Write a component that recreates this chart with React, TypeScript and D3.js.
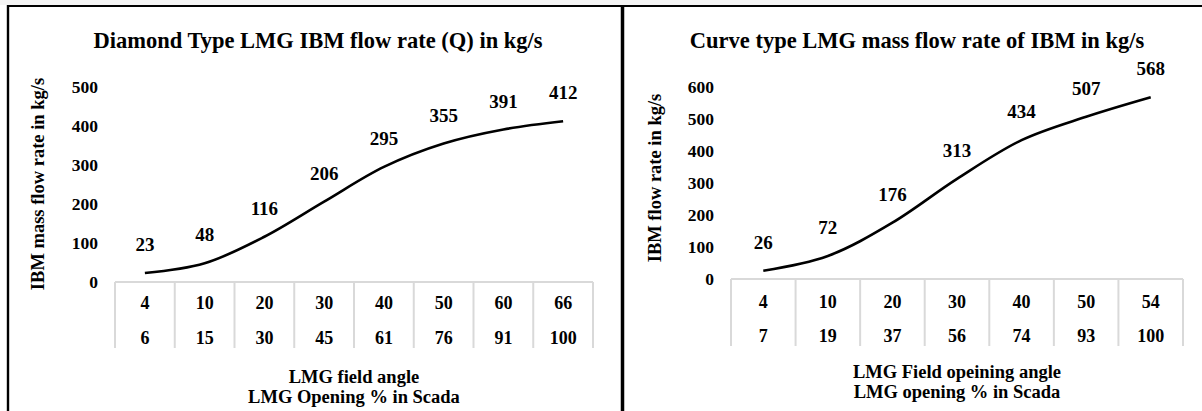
import React from "react";
import * as d3 from "d3";

const leftAngles = ["4", "10", "20", "30", "40", "50", "60", "66"];
const leftOpenings = ["6", "15", "30", "45", "61", "76", "91", "100"];
const leftFlow = [23, 48, 116, 206, 295, 355, 391, 412];
const leftTicks = [0, 100, 200, 300, 400, 500];

const rightAngles = ["4", "10", "20", "30", "40", "50", "54"];
const rightOpenings = ["7", "19", "37", "56", "74", "93", "100"];
const rightFlow = [26, 72, 176, 313, 434, 507, 568];
const rightTicks = [0, 100, 200, 300, 400, 500, 600];

const FONT = "'Liberation Serif', 'Times New Roman', Times, serif";

type PanelProps = {
  title: string;
  yTitle: string;
  xTitle1: string;
  xTitle2: string;
  angles: string[];
  openings: string[];
  values: number[];
  ticks: number[];
  plot: { left: number; right: number; top: number; bottom: number };
  titleX: number;
  yTitlePos: { x: number; y: number };
  row1: number;
  row2: number;
  tableBottom: number;
  xTitleY: [number, number];
};

function Panel(p: PanelProps) {
  const idx = p.values.map((_, i) => i);
  const x = d3
    .scaleBand<number>()
    .domain(idx)
    .range([p.plot.left, p.plot.right]);
  const y = d3
    .scaleLinear()
    .domain([0, p.ticks[p.ticks.length - 1]])
    .range([p.plot.bottom, p.plot.top]);
  const cx = (i: number) => (x(i) as number) + x.bandwidth() / 2;
  const line = d3
    .line<number>()
    .x((_, i) => cx(i))
    .y((v) => y(v))
    .curve(d3.curveCatmullRom.alpha(0.5));
  const boundaries = [...idx.map((i) => x(i) as number), p.plot.right];
  const tableTop = y(0);
  const midX = (p.plot.left + p.plot.right) / 2;

  return (
    <g fontFamily={FONT} fontWeight="bold" fill="#000">
      <text x={p.titleX} y={47.5} fontSize={22.5} textAnchor="middle">
        {p.title}
      </text>
      <text
        transform={`translate(${p.yTitlePos.x},${p.yTitlePos.y}) rotate(-90)`}
        fontSize={18.5}
        textAnchor="middle"
      >
        {p.yTitle}
      </text>
      {p.ticks.map((t) => (
        <text
          key={t}
          x={p.plot.left - 17}
          y={y(t)}
          dy="0.35em"
          fontSize={17.5}
          textAnchor="end"
        >
          {t}
        </text>
      ))}
      <line
        x1={p.plot.left}
        x2={p.plot.right}
        y1={tableTop}
        y2={tableTop}
        stroke="#d9d9d9"
        strokeWidth={2}
      />
      {boundaries.map((bx, i) => (
        <line
          key={i}
          x1={bx}
          x2={bx}
          y1={tableTop}
          y2={p.tableBottom}
          stroke="#d9d9d9"
          strokeWidth={2}
        />
      ))}
      {p.angles.map((a, i) => (
        <text key={"a" + i} x={cx(i)} y={p.row1} dy="0.35em" fontSize={18} textAnchor="middle">
          {a}
        </text>
      ))}
      {p.openings.map((o, i) => (
        <text key={"o" + i} x={cx(i)} y={p.row2} dy="0.35em" fontSize={18} textAnchor="middle">
          {o}
        </text>
      ))}
      <path d={line(p.values) || ""} fill="none" stroke="#000" strokeWidth={2.6} />
      {p.values.map((v, i) => (
        <text
          key={"v" + i}
          x={cx(i)}
          y={y(v) - 28.5}
          dy="0.35em"
          fontSize={19}
          textAnchor="middle"
        >
          {v}
        </text>
      ))}
      <text x={midX} y={p.xTitleY[0]} dy="0.35em" fontSize={18.5} textAnchor="middle">
        {p.xTitle1}
      </text>
      <text x={midX} y={p.xTitleY[1]} dy="0.35em" fontSize={18.5} textAnchor="middle">
        {p.xTitle2}
      </text>
    </g>
  );
}

export default function App() {
  const W = 1202;
  const H = 411;
  return (
    <svg
      width={W}
      height={H}
      style={{ position: "fixed", left: 0, top: 0, background: "#fff" }}
    >
      <rect x={0} y={0} width={W} height={H} fill="#fff" />
      <rect x={0} y={0} width={W} height={5} fill="#f4f4f4" />
      <Panel
        title="Diamond Type LMG IBM flow rate (Q) in kg/s"
        yTitle="IBM mass flow rate in kg/s"
        xTitle1="LMG field angle"
        xTitle2="LMG Opening % in Scada"
        angles={leftAngles}
        openings={leftOpenings}
        values={leftFlow}
        ticks={leftTicks}
        plot={{ left: 115, right: 593, top: 87, bottom: 282 }}
        titleX={318}
        yTitlePos={{ x: 44, y: 184 }}
        row1={303}
        row2={338}
        tableBottom={348}
        xTitleY={[377, 397]}
      />
      <Panel
        title="Curve type LMG mass flow rate of IBM in kg/s"
        yTitle="IBM flow rate in kg/s"
        xTitle1="LMG Field opeining angle"
        xTitle2="LMG opening % in Scada"
        angles={rightAngles}
        openings={rightOpenings}
        values={rightFlow}
        ticks={rightTicks}
        plot={{ left: 731, right: 1183, top: 87, bottom: 279 }}
        titleX={917}
        yTitlePos={{ x: 661, y: 178 }}
        row1={302}
        row2={336}
        tableBottom={346}
        xTitleY={[372, 392]}
      />
      <line x1={7} x2={W} y1={6} y2={6} stroke="#000" strokeWidth={2.2} />
      <line x1={8} x2={8} y1={5} y2={H} stroke="#000" strokeWidth={2.4} />
      <line x1={622.5} x2={622.5} y1={5} y2={H} stroke="#000" strokeWidth={3.5} />
    </svg>
  );
}
